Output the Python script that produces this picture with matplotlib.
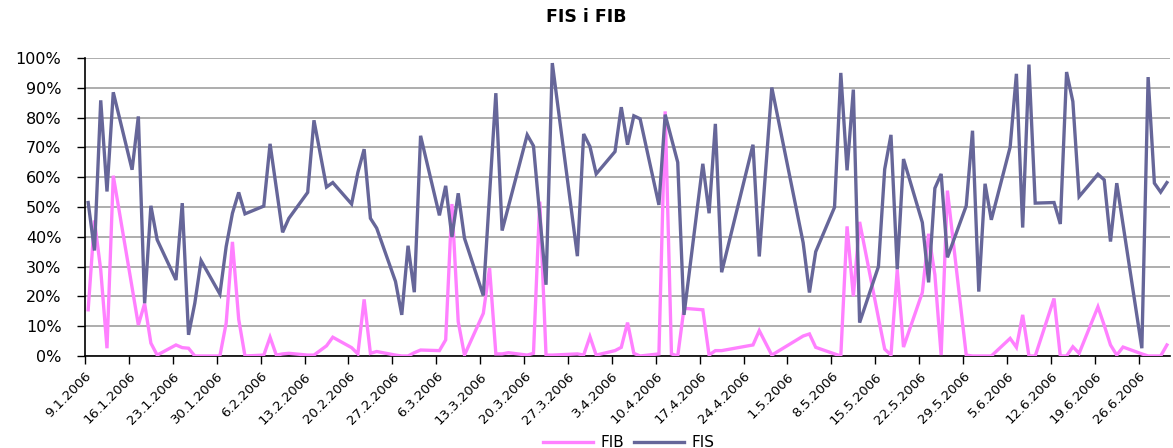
import matplotlib
matplotlib.use("Agg")
import matplotlib.pyplot as plt
import matplotlib.transforms as mtransforms
from matplotlib.lines import Line2D
from datetime import date

# trading days (d.m., 2006) with FIS / FIB share in %, None = no value
days = ["9.1", "10.1", "11.1", "12.1", "13.1",
        "16.1", "17.1", "18.1", "19.1", "20.1",
        "23.1", "24.1", "25.1", "26.1", "27.1",
        "30.1", "31.1", "1.2", "2.2", "3.2",
        "6.2", "7.2", "8.2", "9.2", "10.2",
        "13.2", "14.2", "16.2", "17.2",
        "20.2", "21.2", "22.2", "23.2", "24.2",
        "27.2", "28.2", "1.3", "2.3", "3.3",
        "6.3", "7.3", "8.3", "9.3", "10.3",
        "13.3", "14.3", "15.3", "16.3", "17.3",
        "20.3", "21.3", "22.3", "23.3", "24.3",
        "28.3", "29.3", "30.3", "31.3",
        "3.4", "4.4", "5.4", "6.4", "7.4",
        "10.4", "11.4", "12.4", "13.4", "14.4",
        "17.4", "18.4", "19.4", "20.4",
        "25.4", "26.4", "28.4",
        "3.5", "4.5", "5.5",
        "8.5", "9.5", "10.5", "11.5", "12.5",
        "15.5", "16.5", "17.5", "18.5", "19.5",
        "22.5", "23.5", "24.5", "25.5", "26.5",
        "29.5", "30.5", "31.5", "1.6", "2.6",
        "5.6", "6.6", "7.6", "8.6", "9.6",
        "12.6", "13.6", "14.6", "15.6", "16.6",
        "19.6", "20.6", "21.6", "22.6", "23.6",
        "26.6", "27.6", "28.6", "29.6", "30.6"]

fis = [51.5, 35.4, 85.8, 55.2, 88.5,
       62.5, 80.4, 17.7, 50.4, 39.0,
       25.5, 51.3, 7.1, 17.7, 32.0,
       20.8, 36.7, 47.9, 54.9, 47.7,
       50.3, 71.2, None, 41.5, 46.2,
       54.9, 79.1, 56.7, 58.2,
       51.0, 61.6, 69.4, 46.2, 42.9,
       25.0, 13.8, 37.0, 21.4, 73.9,
       47.2, 57.1, 39.9, 54.6, 39.5,
       20.3, None, 88.2, 42.1, None,
       74.2, 70.5, None, 23.9, 98.3,
       33.5, 74.5, 70.3, 61.1,
       68.6, 83.5, 70.9, 80.6, 79.6,
       50.7, 81.0, None, 65.0, 13.8,
       64.5, 47.9, 77.9, 28.1,
       70.9, 33.4, 90.1,
       38.0, 21.3, 35.0,
       49.9, 95.0, 62.3, 89.4, 11.2,
       30.0, 62.7, 74.2, 29.1, 66.1,
       44.8, 24.7, 56.3, 61.1, 33.1,
       50.4, 75.6, 21.6, 57.8, 45.7,
       70.1, 94.7, 43.1, 97.8, 51.3,
       51.5, 44.3, 95.3, 85.4, 53.5,
       61.0, 59.1, 38.4, 58.0, None,
       2.6, 93.6, 58.0, 55.0, 58.2]

fib = [15.5, 45.5, 28.9, 2.6, 60.5,
       23.0, 10.4, 17.6, 4.3, 0.3,
       3.7, 2.8, 2.6, 0.0, 0.0,
       0.0, 11.0, 38.3, 12.3, 0.0,
       0.3, 6.3, 0.3, 0.7, 0.9,
       0.3, 0.3, 3.4, 6.3,
       2.8, 0.7, 19.0, 0.9, 1.5,
       0.3, 0.0, 0.0, 1.1, 2.0,
       1.8, 5.4, 51.0, 11.5, 0.3,
       14.3, 29.5, 0.7, 0.7, 1.1,
       0.3, 0.9, 51.8, 0.3, 0.3,
       0.7, 0.3, 6.5, 0.3,
       1.8, 2.9, 11.2, 0.9, 0.0,
       0.7, 82.1, 0.7, 0.0, 16.0,
       15.5, 0.3, 1.8, 1.8,
       3.7, 8.5, 0.3,
       6.7, 7.4, 2.9,
       0.7, 0.0, 43.5, 20.0, 45.0,
       12.8, 2.3, 0.3, 29.0, 3.0,
       21.3, 41.0, 27.3, 0.3, 55.5,
       0.3, 0.0, 0.0, 0.0, 0.0,
       5.9, 2.9, 13.8, 0.0, 0.0,
       19.3, 0.0, 0.0, 3.1, 0.9,
       16.5, 10.3, 3.7, 0.3, 3.0,
       0.7, 0.0, 0.0, 0.0, 3.7]

start = date(2006, 1, 9)
x_all = []
for s in days:
    d, m = s.split(".")
    x_all.append((date(2006, int(m), int(d)) - start).days + 0.5)

def pick(vals):
    xs = [x for x, v in zip(x_all, vals) if v is not None]
    ys = [v for v in vals if v is not None]
    return xs, ys

fis_x, fis_y = pick(fis)
fib_x, fib_y = pick(fib)

fig = plt.figure(figsize=(11.73, 4.48), dpi=100)
ax = fig.add_axes([0.0725, 0.2054, 0.925, 0.6651])

pink = "#ff80ff"
slate = "#666699"
ax.plot(fib_x, fib_y, color=pink, lw=2.4, solid_joinstyle="miter", zorder=3)
ax.plot(fis_x, fis_y, color=slate, lw=2.4, solid_joinstyle="miter", zorder=4)

ax.set_xlim(0, 173)
ax.set_ylim(0, 100)
ax.set_yticks(range(0, 101, 10))
ax.set_yticklabels(["%d%%" % v for v in range(0, 101, 10)], fontsize=11.5)

tick_days = list(range(0, 169, 7))
tick_labels = []
for td in tick_days:
    dt = date.fromordinal(start.toordinal() + td)
    tick_labels.append("%d.%d.%d" % (dt.day, dt.month, dt.year))
ax.set_xticks(tick_days)
ax.set_xticklabels(tick_labels, rotation=45, ha="right", va="top",
                   rotation_mode="anchor", fontsize=9.5)
# excel puts the rotated labels a bit left of the tick
shift = mtransforms.ScaledTranslation(-0.24, -0.03, fig.dpi_scale_trans)
for lab in ax.get_xticklabels():
    lab.set_transform(lab.get_transform() + shift)

ax.grid(axis="y", color="#a0a0a0", lw=1.2)
ax.set_axisbelow(True)
for side in ["top", "right"]:
    ax.spines[side].set_visible(False)
ax.spines["left"].set_linewidth(1.2)
ax.spines["bottom"].set_linewidth(1.2)
ax.tick_params(axis="both", direction="out", length=6, width=1, colors="black")
ax.tick_params(axis="y", pad=11)
ax.tick_params(axis="x", pad=4)

fig.suptitle("FIS i FIB", fontsize=12.5, fontweight="bold", y=0.982)

handles = [Line2D([], [], color=pink, lw=2.4), Line2D([], [], color=slate, lw=2.4)]
fig.legend(handles, ["FIB", "FIS"], loc="lower center", bbox_to_anchor=(0.536, -0.035),
           ncol=2, frameon=False, fontsize=11, handlelength=3.3, columnspacing=0.6,
           handletextpad=0.5)

fig.savefig("out.png", dpi=100)
